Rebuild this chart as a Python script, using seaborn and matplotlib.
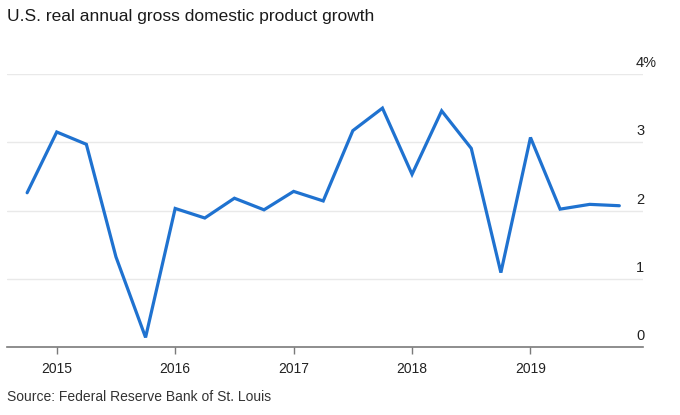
import matplotlib
matplotlib.use("Agg")
import matplotlib.pyplot as plt
import matplotlib.transforms as mtransforms
import numpy as np
import pandas as pd
import seaborn as sns

# quarterly real GDP growth, year-over-year (%), 2014 Q4 - 2019 Q4
quarters = [2014.75,
            2015.0, 2015.25, 2015.5, 2015.75,
            2016.0, 2016.25, 2016.5, 2016.75,
            2017.0, 2017.25, 2017.5, 2017.75,
            2018.0, 2018.25, 2018.5, 2018.75,
            2019.0, 2019.25, 2019.5, 2019.75]
growth = [2.26,
          3.15, 2.97, 1.32, 0.14,
          2.03, 1.89, 2.18, 2.01,
          2.28, 2.14, 3.17, 3.50,
          2.53, 3.46, 2.91, 1.09,
          3.07, 2.02, 2.09, 2.07]
year_ticks = [2015, 2016, 2017, 2018, 2019]
y_ticks = [0, 1, 2, 3, 4]
y_labels = ["0", "1", "2", "3", "4%"]

df = pd.DataFrame({"quarter": quarters, "growth": growth})

sns.set_theme(style="white")
plt.rcParams["font.family"] = ["Liberation Sans", "DejaVu Sans"]

fig = plt.figure(figsize=(6.8, 4.15), dpi=100)
ax = fig.add_axes([7 / 680, 1 - 347 / 415, 636 / 680, 273 / 415])

sns.lineplot(data=df, x="quarter", y="growth", ax=ax, color="#1f72d0",
             linewidth=2.3, solid_joinstyle="miter")

ax.set_xlim(2014.58, 2019.95)
ax.set_ylim(0, 4)
ax.set_xlabel("")
ax.set_ylabel("")

# horizontal gridlines
for y in y_ticks[1:]:
    ax.axhline(y, color="#e9e9e9", linewidth=1, zorder=0)

for side in ["top", "right", "left"]:
    ax.spines[side].set_visible(False)
ax.spines["bottom"].set_color("#7a7a7a")
ax.spines["bottom"].set_linewidth(1.2)

ax.set_xticks(year_ticks)
ax.set_xticklabels([str(y) for y in year_ticks])
ax.tick_params(axis="x", bottom=True, length=5, width=1, color="#7a7a7a",
               labelsize=10, labelcolor="#222222", pad=6)

ax.yaxis.tick_right()
ax.set_yticks(y_ticks)
ax.set_yticklabels(y_labels)
ax.tick_params(axis="y", right=False, left=False, length=0, pad=-5,
               labelsize=10.5, labelcolor="#222222")
offset = mtransforms.ScaledTranslation(0, 9 / 72, fig.dpi_scale_trans)
for lab in ax.get_yticklabels():
    lab.set_horizontalalignment("left")
    lab.set_transform(lab.get_transform() + offset)

fig.text(7 / 680, 1 - 16 / 415, "U.S. real annual gross domestic product growth",
         fontsize=12.5, color="#1a1a1a", ha="left", va="center")
fig.text(7 / 680, 1 - 397 / 415, "Source: Federal Reserve Bank of St. Louis",
         fontsize=10, color="#333333", ha="left", va="center")

fig.savefig("out.png", dpi=100)
